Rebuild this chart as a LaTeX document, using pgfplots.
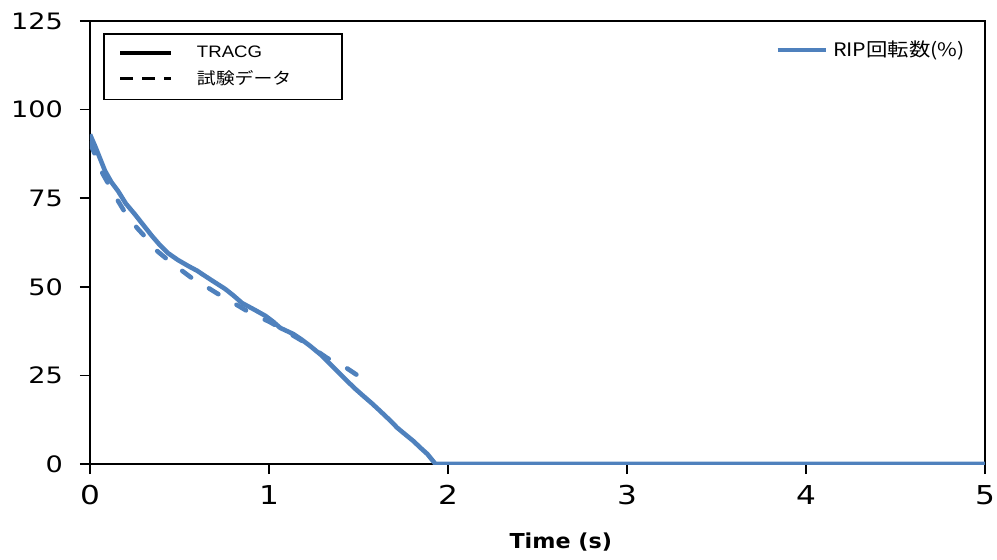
\documentclass[border=0pt]{standalone}
\usepackage{fontspec}
\usepackage{pgfplots}
\pgfplotsset{compat=1.18}
\setmainfont{Liberation Sans}
\newfontfamily\tickfont[FakeStretch=1.2]{DejaVu Sans}
\newfontfamily\labfont[FakeStretch=1.08]{DejaVu Sans}
\newfontfamily\legfont[FakeStretch=1.12]{Liberation Sans}
\newfontfamily\cjk[FakeStretch=1.15]{Noto Sans CJK JP}
\definecolor{rip}{HTML}{4F81BD}

\pgfplotstableread{
t y
0 93.0
0.03 89.5
0.084 82.7
0.12 79.5
0.157 77.0
0.2 73.5
0.25 70.5
0.3 67.3
0.347 64.3
0.39 61.8
0.436 59.5
0.49 57.6
0.548 55.9
0.6 54.5
0.626 53.6
0.69 51.5
0.755 49.4
0.8 47.6
0.85 45.4
0.92 43.5
0.98 41.8
1.02 40.3
1.063 38.4
1.135 36.7
1.18 35.2
1.23 33.3
1.29 30.8
1.342 28.2
1.39 25.8
1.437 23.4
1.48 21.3
1.527 19.2
1.575 17.1
1.62 15.0
1.67 12.6
1.717 10.2
1.76 8.4
1.806 6.5
1.85 4.4
1.885 2.8
1.93 0
5 0
}\tracg

\pgfplotstableread{
t y
0 90.5
0.04 86
0.07 82
0.11 78.4
0.157 74.2
0.2 70.6
0.263 66.6
0.31 64
0.375 60.1
0.43 57.8
0.515 54.5
0.576 52.2
0.67 49.4
0.74 47.2
0.83 44.6
0.906 42.3
1.0 40.2
1.1 37.3
1.2 34.3
1.325 29.9
1.4 28.2
1.51 24.5
}\test

\begin{document}
\begin{tikzpicture}
\path[use as bounding box] (-45pt,-47.5pt) rectangle (453.5pt,232pt);
\begin{axis}[
  at={(0pt,0pt)}, anchor=south west,
  scale only axis, width=447.5pt, height=221.5pt,
  xmin=0, xmax=5, ymin=0, ymax=125,
  xtick={0,1,2,3,4,5}, ytick={0,25,50,75,100,125},
  axis line style={line width=0.8pt},
  tick style={black, line width=0.8pt},
  tick align=outside, major tick length=5pt,
  xtick pos=bottom, ytick pos=left,
  /pgf/number format/assume math mode=true,
  yticklabel style={font=\fontsize{11.3}{13}\tickfont, xshift=-5pt},
  xticklabel style={font=\fontsize{13}{15}\tickfont, yshift=-2.2pt},
  xlabel={\fontsize{10.3}{12}\labfont\bfseries Time (s)},
  xlabel style={at={(axis description cs:0.526,0)}, anchor=base, yshift=-42pt},
  legend image code/.code={\draw[#1] (0pt,0pt) -- (24pt,0pt);},
  legend style={at={(axis description cs:0.7654,0.9344)}, anchor=west,
    draw=none, fill=none, inner sep=0pt, nodes={inner sep=0pt}, column sep=2.5pt,
    font=\fontsize{9.3}{11}\cjk},
]
\addplot[rip, line width=2.3pt, dash pattern=on 5.5pt off 10.5pt, line cap=round, line join=round, forget plot] table[x=t,y=y] {\test};
\addplot[rip, line width=2.3pt, line join=round] table[x=t,y=y] {\tracg};
\addlegendentry{RIP回転数(\%)}
\end{axis}
\begin{axis}[
  at={(0pt,0pt)}, anchor=south west,
  scale only axis, width=447.5pt, height=221.5pt,
  xmin=0, xmax=1, ymin=0, ymax=1, hide axis,
  legend image code/.code={\draw[#1] (0pt,0pt) -- (25.5pt,0pt);},
  legend cell align=left,
  legend style={at={(axis description cs:0.0145,0.973)}, anchor=north west,
    draw=black, line width=0.8pt, fill=white, inner xsep=7.5pt, inner ysep=4pt,
    column sep=10pt, row sep=1pt,
    nodes={inner sep=2pt}},
]
\addlegendimage{black, line width=1.6pt}
\addlegendentry{\fontsize{8.3}{10}\legfont TRACG}
\addlegendimage{black, line width=1.6pt, dash pattern=on 6.5pt off 4.5pt}
\addlegendentry{\fontsize{8.2}{10}\cjk 試験データ\hspace*{16pt}\rule[-6pt]{0pt}{1pt}}
\end{axis}
\end{tikzpicture}
\end{document}
